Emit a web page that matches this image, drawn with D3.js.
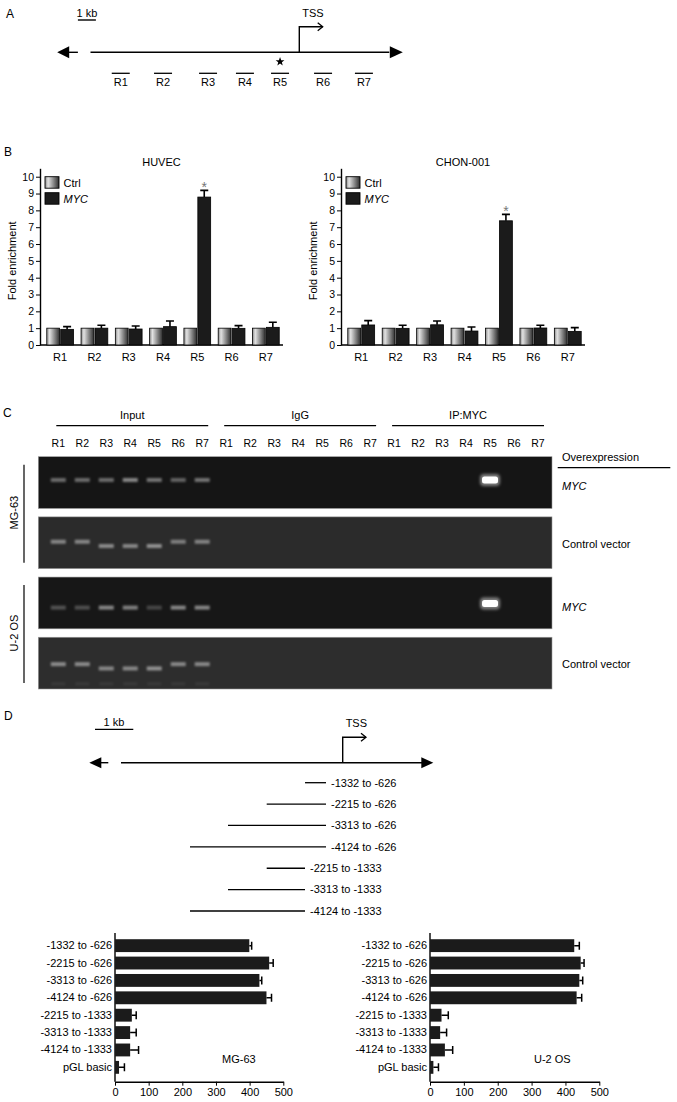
<!DOCTYPE html>
<html><head><meta charset="utf-8">
<script src="https://cdn.jsdelivr.net/npm/d3@7"></script>
<style>
body{margin:0;background:#fff;}
svg{display:block;font-family:"Liberation Sans",Arial,Helvetica,sans-serif;}
</style></head><body>
<svg id="fig" width="677" height="1102"></svg>
<script>
// ---------------- DATA ----------------
const regions = ["R1","R2","R3","R4","R5","R6","R7"];
const regionStartKb = [-10.42,-8.07,-5.57,-3.52,-1.57,0.82,3.09]; // relative to TSS
const regionLenKb = 1.0;
const boundRegion = "R5";

const huvecCtrl = [1,1,1,1,1,1,1];
const huvecMyc  = [0.93,1.00,0.95,1.09,8.79,0.99,1.05];
const huvecErr  = [0.16,0.17,0.18,0.34,0.40,0.16,0.30];
const chonCtrl  = [1,1,1,1,1,1,1];
const chonMyc   = [1.19,0.99,1.20,0.83,7.38,1.01,0.81];
const chonErr   = [0.26,0.18,0.23,0.24,0.38,0.16,0.22];
const yTicksB   = [0,1,2,3,4,5,6,7,8,9,10];

const gelGroups = ["Input","IgG","IP:MYC"];
const gelLanes  = gelGroups.flatMap(g => regions.map(r => ({group:g, region:r})));
const gelRowLabels = ["MYC","Control vector","MYC","Control vector"];
const gelCellLines = ["MG-63","U-2 OS"];
// band intensity per lane (21 lanes: Input R1-R7, IgG R1-R7, IP:MYC R1-R7)
const mg63MycBands  = [0.50,0.50,0.50,0.66,0.55,0.45,0.55, 0,0,0,0,0,0,0, 0,0,0,0,1,0,0];
const mg63CtrlBands = [0.60,0.60,0.62,0.60,0.66,0.55,0.58, 0,0,0,0,0,0,0, 0,0,0,0,0,0,0];
const u2osMycBands  = [0.35,0.33,0.66,0.62,0.28,0.66,0.66, 0,0,0,0,0,0,0, 0,0,0,0,1,0,0];
const u2osCtrlBands = [0.62,0.62,0.60,0.60,0.66,0.60,0.60, 0,0,0,0,0,0,0, 0,0,0,0,0,0,0];
const ctrlLowerBand = [0,0,1,1,1,0,0, 0,0,0,0,0,0,0, 0,0,0,0,0,0,0]; // faster-migrating product

const constructStart = [-1332,-2215,-3313,-4124,-2215,-3313,-4124];
const constructEnd   = [-626,-626,-626,-626,-1333,-1333,-1333];
const constructLabels = ["-1332 to -626","-2215 to -626","-3313 to -626","-4124 to -626","-2215 to -1333","-3313 to -1333","-4124 to -1333"];

const lucLabels = ["-1332 to -626","-2215 to -626","-3313 to -626","-4124 to -626","-2215 to -1333","-3313 to -1333","-4124 to -1333","pGL basic"];
const mg63Luc    = [399,458,429,450,50,45,45,12];
const mg63LucErr = [7,12,7,15,13,18,25,16];
const u2osLuc    = [426,445,441,433,34,30,44,10];
const u2osLucErr = [15,10,10,15,20,19,23,15];
const lucTicks   = [0,100,200,300,400,500];

// ---------------- DRAW ----------------
const svg = d3.select("#fig");
svg.append("rect").attr("width",677).attr("height",1102).attr("fill","#fff");
const defs = svg.append("defs");
const grad = defs.append("linearGradient").attr("id","ctrlGrad").attr("x1","0").attr("x2","1").attr("y1","0").attr("y2","0");
grad.append("stop").attr("offset","0").attr("stop-color","#8a8a8a");
grad.append("stop").attr("offset","0.22").attr("stop-color","#e2e2e2");
grad.append("stop").attr("offset","1").attr("stop-color","#2e2e2e");
defs.append("filter").attr("id","blur1").attr("x","-50%").attr("y","-100%").attr("width","200%").attr("height","300%")
  .append("feGaussianBlur").attr("stdDeviation",1.0);
defs.append("filter").attr("id","glow").attr("x","-60%").attr("y","-150%").attr("width","220%").attr("height","400%")
  .append("feGaussianBlur").attr("stdDeviation",1.8);

const FS = 11;
function panelLetter(t,x,y){svg.append("text").attr("x",x).attr("y",y).attr("font-size",12).text(t);}

function triLeft(g,tipX,y,len,h){g.append("path").attr("d",`M${tipX},${y}L${tipX+len},${y-h/2}L${tipX+len},${y+h/2}Z`).attr("fill","#000");}
function triRight(g,tipX,y,len,h){g.append("path").attr("d",`M${tipX},${y}L${tipX-len},${y-h/2}L${tipX-len},${y+h/2}Z`).attr("fill","#000");}
function tss(g,x,yBase,yTop,xEnd,labelY){
  g.append("path").attr("d",`M${x},${yBase}V${yTop}H${xEnd}`).attr("fill","none").attr("stroke","#000").attr("stroke-width",1.4);
  g.append("path").attr("d",`M${xEnd-5},${yTop-4}L${xEnd},${yTop}L${xEnd-5},${yTop+4}`).attr("fill","none").attr("stroke","#000").attr("stroke-width",1.3);
  g.append("text").attr("x",(x+xEnd)/2+2).attr("y",labelY).attr("text-anchor","middle").attr("font-size",FS).text("TSS");
}

// ===== Panel A =====
panelLetter("A",6,18);
const gA = svg.append("g");
const xA = d3.scaleLinear().domain([0,1]).range([299.3,317.3]); // 1 kb per 18 px
const yA = 52.3;
gA.append("text").attr("x",xA(-12.3)+9).attr("y",17).attr("text-anchor","middle").attr("font-size",FS).text("1 kb");
gA.append("line").attr("x1",xA(-12.3)).attr("x2",xA(-11.3)).attr("y1",20).attr("y2",20).attr("stroke","#000").attr("stroke-width",1.4);
gA.append("line").attr("x1",xA(-12.8)).attr("x2",xA(-12.3)).attr("y1",yA).attr("y2",yA).attr("stroke","#000").attr("stroke-width",1.4);
triLeft(gA,xA(-13.45),yA,12,12);
gA.append("line").attr("x1",xA(-11.6)).attr("x2",xA(5.0)).attr("y1",yA).attr("y2",yA).attr("stroke","#000").attr("stroke-width",1.4);
triRight(gA,xA(5.75),yA,13,12);
tss(gA,xA(0),yA,26.7,xA(1.3),17);
regions.forEach((r,i)=>{
  const x0 = xA(regionStartKb[i]), x1 = xA(regionStartKb[i]+regionLenKb);
  gA.append("line").attr("x1",x0).attr("x2",x1).attr("y1",73.3).attr("y2",73.3).attr("stroke","#000").attr("stroke-width",1.3);
  gA.append("text").attr("x",(x0+x1)/2).attr("y",86).attr("text-anchor","middle").attr("font-size",FS).text(r);
  if(r===boundRegion){
    const cx=(x0+x1)/2, cy=61.7, R=4.6, r2=1.9;
    const pts=d3.range(10).map(k=>{const a=-Math.PI/2+k*Math.PI/5, rr=k%2?r2:R; return [cx+rr*Math.cos(a), cy+rr*Math.sin(a)];});
    gA.append("path").attr("d","M"+pts.join("L")+"Z").attr("fill","#000");
  }
});

// ===== Panel B =====
panelLetter("B",4,156);
function barChart(axisX, endX, title, ctrl, myc, err){
  const g = svg.append("g");
  const y = d3.scaleLinear().domain([0,10.5]).range([345,168.3]);
  const x = d3.scaleBand().domain(regions).range([axisX+3,endX]).paddingInner(0.22).paddingOuter(0.11);
  const xs = d3.scaleBand().domain(["Ctrl","MYC"]).range([0,x.bandwidth()]).paddingInner(0.08);
  const ax = g.append("g").attr("transform",`translate(${axisX},0)`)
    .call(d3.axisLeft(y).tickValues(yTicksB).tickFormat(d3.format("d")).tickSize(4).tickSizeOuter(0).tickPadding(2));
  ax.select(".domain").attr("stroke-width",1.4);
  ax.selectAll(".tick line").attr("stroke-width",1);
  ax.selectAll("text").attr("font-size",10.5).attr("font-family","inherit");
  g.append("line").attr("x1",axisX).attr("x2",endX).attr("y1",y(0)).attr("y2",y(0)).attr("stroke","#000").attr("stroke-width",1.4);
  g.append("text").attr("x",(axisX+endX)/2).attr("y",166).attr("text-anchor","middle").attr("font-size",FS).text(title);
  g.append("text").attr("transform",`translate(${axisX-28},${y(5)}) rotate(-90)`).attr("text-anchor","middle").attr("dy","0.35em").attr("font-size",FS).text("Fold enrichment");
  regions.forEach((r,i)=>{
    const gx = x(r);
    g.append("rect").attr("x",gx+xs("Ctrl")).attr("y",y(ctrl[i])).attr("width",xs.bandwidth()).attr("height",y(0)-y(ctrl[i]))
      .attr("fill","url(#ctrlGrad)").attr("stroke","#000").attr("stroke-width",0.8);
    const mx = gx+xs("MYC");
    g.append("rect").attr("x",mx).attr("y",y(myc[i])).attr("width",xs.bandwidth()).attr("height",y(0)-y(myc[i]))
      .attr("fill","#1b1b1b").attr("stroke","#000").attr("stroke-width",0.8);
    const cx = mx+xs.bandwidth()/2, et = y(myc[i]+err[i]);
    g.append("path").attr("d",`M${cx},${y(myc[i])}V${et}M${cx-4},${et}H${cx+4}`).attr("stroke","#000").attr("stroke-width",1.6).attr("fill","none");
    if(r===boundRegion){
      g.append("text").attr("x",cx).attr("y",et+2).attr("text-anchor","middle").attr("font-size",14).attr("fill","#777").text("*");
    }
    g.append("text").attr("x",gx+x.bandwidth()/2).attr("y",361).attr("text-anchor","middle").attr("font-size",FS).text(r);
  });
  const lg = [["Ctrl","url(#ctrlGrad)",false],["MYC","#1b1b1b",true]];
  lg.forEach((d,k)=>{
    const yy = 176.7+k*16;
    g.append("rect").attr("x",axisX+5).attr("y",yy).attr("width",14).attr("height",11.5).attr("fill",d[1]).attr("stroke","#000").attr("stroke-width",0.9);
    g.append("text").attr("x",axisX+23.5).attr("y",yy+10.3).attr("font-size",FS).attr("font-style",d[2]?"italic":"normal").text(d[0]);
  });
}
barChart(40,283,"HUVEC",huvecCtrl,huvecMyc,huvecErr);
barChart(341,585,"CHON-001",chonCtrl,chonMyc,chonErr);

// ===== Panel C =====
panelLetter("C",3,417);
const gC = svg.append("g");
const lane = d3.scalePoint().domain(d3.range(gelLanes.length)).range([58.3,538]);
const rowY = d3.scaleBand().domain(d3.range(4)).range([456.7,689]).paddingInner(0.14);
gelGroups.forEach((gname)=>{
  const idx = gelLanes.map((d,i)=>i).filter(i=>gelLanes[i].group===gname);
  const a = lane(idx[0])-2, b = lane(idx[idx.length-1])+6;
  gC.append("line").attr("x1",a).attr("x2",b).attr("y1",425.7).attr("y2",425.7).attr("stroke","#000").attr("stroke-width",1.2);
  gC.append("text").attr("x",(a+b)/2).attr("y",419).attr("text-anchor","middle").attr("font-size",FS).text(gname);
});
gelLanes.forEach((d,i)=>{
  gC.append("text").attr("x",lane(i)).attr("y",447).attr("text-anchor","middle").attr("font-size",10.5).text(d.region);
});
const gelX0 = 38.3, gelX1 = 552;
const gelBg = ["#151515","#2b2b2b","#171717","#2d2d2d"];
const gelBandFrac = [0.45,0.48,0.59,0.52];
const gelData = [mg63MycBands,mg63CtrlBands,u2osMycBands,u2osCtrlBands];
gelData.forEach((bands,r)=>{
  const y0 = rowY(r), h = rowY.bandwidth();
  gC.append("rect").attr("x",gelX0).attr("y",y0).attr("width",gelX1-gelX0).attr("height",h).attr("fill",gelBg[r]).attr("stroke","#9a9a9a").attr("stroke-width",0.6);
  const isCtrl = r%2===1;
  bands.forEach((v,i)=>{
    if(!v) return;
    const cx = lane(i);
    if(v>=1){
      const by = y0 + h*gelBandFrac[r] - (r===2?4:0);
      gC.append("rect").attr("x",cx-10).attr("y",by-6).attr("width",20).attr("height",12).attr("rx",4).attr("fill","#fff").attr("opacity",0.45).attr("filter","url(#glow)");
      gC.append("rect").attr("x",cx-8).attr("y",by-3.5).attr("width",16).attr("height",7).attr("rx",2.5).attr("fill","#fff");
    } else {
      const by = y0 + h*gelBandFrac[r] + (isCtrl && ctrlLowerBand[i] ? 4.3 : 0);
      gC.append("rect").attr("x",cx-7.5).attr("y",by-2).attr("width",15).attr("height",4).attr("fill","#fff").attr("opacity",v*0.72).attr("filter","url(#blur1)");
      if(r===3){
        gC.append("rect").attr("x",cx-7).attr("y",y0+h*0.9-1.5).attr("width",14).attr("height",3).attr("fill","#fff").attr("opacity",0.06).attr("filter","url(#blur1)");
      }
    }
  });
  const ly = y0 + h/2 + (isCtrl?1:4);
  gC.append("text").attr("x",562).attr("y",ly).attr("dy","0.35em").attr("font-size",FS).attr("font-style",isCtrl?"normal":"italic").text(gelRowLabels[r]);
});
gC.append("text").attr("x",562).attr("y",461).attr("font-size",FS).text("Overexpression");
gC.append("line").attr("x1",557.7).attr("x2",670.3).attr("y1",467.7).attr("y2",467.7).attr("stroke","#000").attr("stroke-width",1.2);
gelCellLines.forEach((c,k)=>{
  const top = rowY(2*k), bot = rowY(2*k+1)+rowY.bandwidth();
  gC.append("line").attr("x1",24).attr("x2",24).attr("y1",top+8).attr("y2",bot-6).attr("stroke","#000").attr("stroke-width",1.2);
  gC.append("text").attr("transform",`translate(14,${(top+bot)/2}) rotate(-90)`).attr("text-anchor","middle").attr("dy","0.35em").attr("font-size",FS).text(c);
});

// ===== Panel D (map) =====
panelLetter("D",4,720);
const gD = svg.append("g");
const xD = d3.scaleLinear().domain([-4124,-3313,-2215,-1333,-626,0]).range([190,228,266.7,305,326,342.7]);
const yDm = 762.7;
gD.append("text").attr("x",114).attr("y",726).attr("text-anchor","middle").attr("font-size",FS).text("1 kb");
gD.append("line").attr("x1",95).attr("x2",133.3).attr("y1",729.3).attr("y2",729.3).attr("stroke","#000").attr("stroke-width",1.3);
triLeft(gD,89.3,yDm,12,11);
gD.append("line").attr("x1",100).attr("x2",108.3).attr("y1",yDm).attr("y2",yDm).attr("stroke","#000").attr("stroke-width",1.4);
gD.append("line").attr("x1",121).attr("x2",422).attr("y1",yDm).attr("y2",yDm).attr("stroke","#000").attr("stroke-width",1.4);
triRight(gD,433.3,yDm,12,11);
tss(gD,xD(0),yDm,737.3,366,727);
const yC = d3.scalePoint().domain(d3.range(constructLabels.length)).range([782.7,911]);
constructLabels.forEach((lab,i)=>{
  const x0 = xD(constructStart[i]), x1 = xD(constructEnd[i]);
  gD.append("line").attr("x1",x0).attr("x2",x1).attr("y1",yC(i)).attr("y2",yC(i)).attr("stroke","#000").attr("stroke-width",1.3);
  gD.append("text").attr("x",x1+5).attr("y",yC(i)).attr("dy","0.35em").attr("font-size",FS).text(lab);
});

// ===== Panel D (luciferase) =====
function lucChart(x0, x1, vals, errs, name, nameX){
  const g = svg.append("g");
  const x = d3.scaleLinear().domain([0,500]).range([x0,x1]);
  const y = d3.scaleBand().domain(lucLabels).range([934,1079]).paddingInner(0.26).paddingOuter(0.3);
  const axisY = 1081.7;
  const xa = g.append("g").attr("transform",`translate(0,${axisY})`)
    .call(d3.axisBottom(x).tickValues(lucTicks).tickSize(4).tickSizeOuter(0).tickPadding(3));
  xa.select(".domain").attr("stroke-width",1.4);
  xa.selectAll("text").attr("font-size",FS).attr("font-family","inherit");
  g.append("line").attr("x1",x0).attr("x2",x0).attr("y1",933).attr("y2",axisY).attr("stroke","#000").attr("stroke-width",1.4);
  const ya = g.append("g").attr("transform",`translate(${x0},0)`).call(d3.axisLeft(y).tickSize(0).tickPadding(3));
  ya.select(".domain").remove();
  ya.selectAll("text").attr("font-size",FS).attr("font-family","inherit");
  lucLabels.forEach((l,i)=>{
    const by = y(l), bh = y.bandwidth();
    g.append("rect").attr("x",x(0)).attr("y",by).attr("width",x(vals[i])-x(0)).attr("height",bh).attr("fill","#1b1b1b");
    const cy = by+bh/2, xe = x(vals[i]+errs[i]);
    g.append("path").attr("d",`M${x(vals[i])},${cy}H${xe}M${xe},${cy-4}V${cy+4}`).attr("stroke","#000").attr("stroke-width",1.5).attr("fill","none");
  });
  g.append("text").attr("x",nameX).attr("y",y(lucLabels[6])+y.step()*0.9).attr("dy","0.35em").attr("font-size",FS).text(name);
}
lucChart(115,283.3,mg63Luc,mg63LucErr,"MG-63",222);
lucChart(430,599.3,u2osLuc,u2osLucErr,"U-2 OS",534);
</script>
</body></html>
